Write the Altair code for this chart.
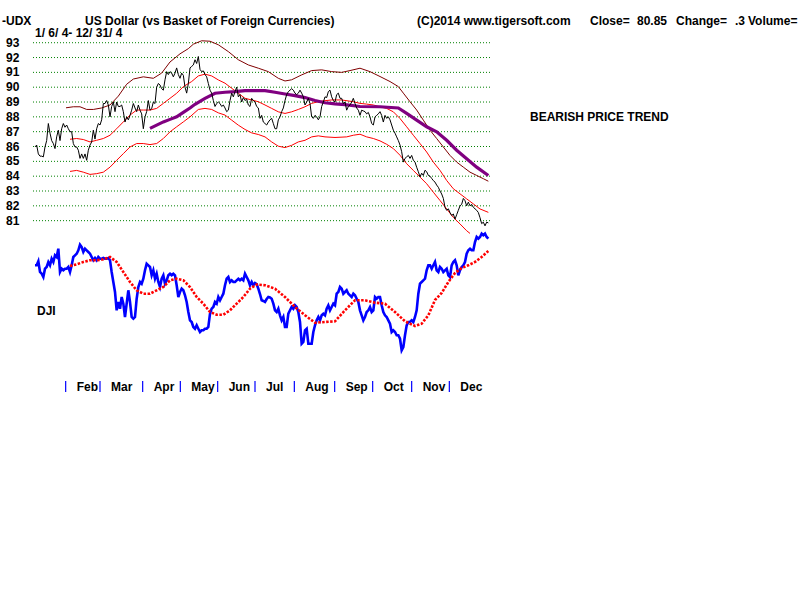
import altair as alt
import pandas as pd

FONT = "Liberation Sans"

# ---------------- US Dollar index (UDX) daily closes, three consecutive segments
UDX_A = [85.97, 86.1, 85.5, 85.35, 85.35, 85.3, 85.97, 86.4, 87.55, 86.9,
         86.4, 86.2, 85.86, 86.65, 87.1, 86.4, 87.2, 87.55, 87.3, 87.45,
         87.2, 87.0, 87.0, 86.2, 85.97, 85.97, 85.75, 85.2, 85.5, 85.2,
         85.5, 85.07, 85.75, 86.1, 86.3, 87.1, 86.5, 87.2, 87.55, 87.45,
         87.8, 88.9, 88.9, 89.1, 88.8, 88.0, 88.7, 89.0, 88.35, 89.0,
         88.7, 88.7, 88.8, 88.35, 87.65, 88.0, 87.8, 88.1, 88.45, 88.9,
         88.6, 88.35, 88.8, 88.45, 88.2, 87.2, 88.0, 88.35, 89.1, 88.45,
         88.55, 89.0, 88.9, 90.0, 90.25, 90.15, 89.9, 89.8, 90.5, 91.05,
         90.85, 91.05, 90.95, 90.7, 90.95, 91.3, 90.85, 90.6, 90.95, 90.8,
         90.0, 89.6, 90.25, 91.3]
UDX_B = [91.4, 91.5, 91.85, 91.6, 92.07, 91.2, 91.05, 91.1, 90.85, 90.7,
         90.25, 89.8, 89.6, 89.1, 88.7, 88.9, 89.0, 88.9, 88.7, 88.8,
         88.6, 88.35, 88.45, 89.1, 89.6, 89.35, 89.7, 90.0, 89.35, 89.5,
         89.0, 89.3, 89.1, 89.2, 88.8, 88.7, 89.25, 89.1, 89.0, 88.7,
         88.6, 87.9, 88.1, 87.65, 87.55, 87.45, 87.65, 87.8, 87.9, 87.55,
         87.2, 87.2, 87.8, 88.0, 88.35, 88.6, 89.1, 89.5, 89.7, 89.8,
         89.9, 89.8, 89.6, 89.5, 89.6, 89.8, 89.6, 89.35, 88.8, 89.0,
         89.25, 88.9, 88.0, 87.9, 88.1, 88.0, 87.8, 88.0, 88.7, 89.0,
         89.35, 89.3, 89.7, 89.8, 89.35, 89.1, 89.0, 89.5, 89.6, 89.25]
UDX_C = [89.25, 88.9, 89.0, 88.45, 88.7, 88.8, 89.0, 89.25, 88.9, 88.6,
         88.45, 88.1, 88.45, 88.4, 88.35, 88.2, 88.3, 88.0, 87.55, 87.45,
         88.0, 88.1, 88.2, 88.35, 88.1, 87.65, 88.1, 87.9, 88.0, 87.8,
         87.45, 87.1, 86.9, 86.65, 86.4, 86.1, 85.65, 84.95, 85.2, 85.3,
         85.4, 85.2, 85.4, 85.07, 84.95, 84.6, 84.3, 83.95, 84.2, 84.05,
         84.4, 84.3, 84.05, 84.0, 83.85, 83.7, 83.6, 83.4, 83.25, 83.0,
         82.8, 82.5, 81.9, 81.7, 81.8, 81.55, 81.35, 81.45, 81.1, 81.4,
         81.7, 82.0, 82.1, 82.5, 82.35, 82.0, 82.25, 82.0, 82.1, 81.9,
         81.8, 81.7, 81.55, 81.2, 80.8, 80.9, 80.65, 80.9, 80.85]
UDX_STARTS = [0, 94, 184]

# ---------------- bands around the price
OUTER_T = [18.6, 23, 27, 31, 35, 40, 45, 50, 55, 59, 65, 71, 76, 81, 87, 92, 95, 100,
           105, 110, 116, 122, 128, 134, 140, 146, 150, 154, 160, 166, 172, 178, 184,
           189, 195, 201, 207, 213, 218, 221, 225, 229, 233, 237, 241, 245, 249, 253,
           257, 261, 265, 269, 272]
OUTER_V = [88.61, 88.68, 88.68, 88.5, 88.5, 88.6, 88.8, 89.4, 90.2, 90.55, 90.7, 90.6,
           90.95, 91.7, 92.25, 92.6, 92.9, 93.13, 93.1, 92.86, 92.4, 91.85, 91.5, 91.28,
           91.05, 90.6, 90.42, 90.5, 90.83, 91.12, 91.17, 91.05, 91.0, 91.12, 91.28,
           91.05, 90.72, 90.38, 90.04, 89.6, 89.02, 88.46, 87.78, 87.1, 86.54, 85.97,
           85.4, 84.95, 84.61, 84.27, 84.05, 83.83, 83.66]

MID_T = [21, 25, 29, 33, 37, 41, 45, 49, 53, 57, 61, 65, 69, 73, 77, 81, 85, 89, 94, 98,
         102, 106, 110, 114, 118, 122, 126, 130, 134, 138, 142, 146, 150, 154, 158, 162,
         166, 170, 174, 178, 184, 191, 195, 199, 203, 207, 211, 215, 219, 223, 227, 231,
         235, 239, 243, 247, 251, 255, 259, 263, 267, 272]
MID_V = [86.49, 86.54, 86.47, 86.31, 86.42, 86.54, 86.76, 87.2, 87.66, 88.12, 88.46,
         88.46, 88.46, 88.57, 88.91, 89.25, 89.59, 90.04, 90.38, 90.76, 90.88, 90.76,
         90.49, 90.27, 89.93, 89.59, 89.25, 89.14, 89.02, 88.8, 88.57, 88.34, 88.23,
         88.34, 88.5, 88.68, 88.91, 89.02, 89.09, 89.14, 89.14, 89.02, 88.91, 88.86,
         88.8, 88.68, 88.57, 88.34, 87.89, 87.33, 86.76, 86.2, 85.63, 84.95, 84.39,
         83.71, 83.15, 82.81, 82.47, 82.13, 81.79, 81.56]

LOW_T = [21, 25, 29, 33, 37, 41, 45, 49, 53, 57, 61, 65, 69, 73, 77, 81, 85, 89, 93, 98,
         102, 106, 110, 114, 118, 122, 126, 130, 134, 138, 142, 146, 150, 154, 158, 162,
         166, 170, 174, 180, 187, 191, 195, 199, 203, 207, 211, 215, 219, 223, 227, 231,
         235, 239, 243, 247, 251, 255, 259, 261]
LOW_V = [84.32, 84.39, 84.27, 84.12, 84.17, 84.27, 84.61, 85.07, 85.52, 85.97, 86.2,
         86.2, 86.13, 86.2, 86.54, 86.99, 87.33, 87.66, 88.0, 88.5, 88.57, 88.5, 88.27,
         88.12, 87.78, 87.44, 87.15, 86.92, 86.81, 86.65, 86.31, 86.02, 85.93, 86.08,
         86.31, 86.42, 86.65, 86.72, 86.65, 86.61, 86.65, 86.76, 86.83, 86.65, 86.54,
         86.38, 86.15, 85.86, 85.41, 84.84, 84.39, 83.94, 83.49, 82.92, 82.36, 81.79,
         81.22, 80.78, 80.32, 80.14]

PUR_T = [69, 73, 77, 81, 85, 89, 93, 96, 102, 108, 114, 120, 126, 132, 138, 144, 150,
         156, 162, 168, 174, 180, 186, 195, 207, 218, 223, 229, 235, 241, 247, 253, 259,
         265, 272]
PUR_V = [87.22, 87.44, 87.66, 87.83, 88.0, 88.3, 88.6, 88.85, 89.25, 89.59, 89.66, 89.7,
         89.77, 89.77, 89.77, 89.66, 89.54, 89.43, 89.3, 89.1, 88.95, 88.88, 88.83, 88.7,
         88.68, 88.6, 88.23, 87.78, 87.33, 86.99, 86.42, 85.75, 85.18, 84.61, 84.05]

# ---------------- DJI (lower panel), two consecutive segments
DJI_A = [10527, 10527, 10567, 10460, 10443, 10410, 10493, 10510, 10560, 10527,
         10593, 10560, 10627, 10610, 10693, 10460, 10493, 10477, 10493, 10493,
         10510, 10460, 10527, 10610, 10627, 10643, 10677, 10733, 10710, 10660,
         10693, 10677, 10660, 10643, 10610, 10577, 10600, 10577, 10610, 10593,
         10593, 10600, 10593, 10593, 10600, 10577, 10460, 10360, 10260, 10077,
         10160, 10093, 10210, 10143, 10010, 10143, 10277, 10160, 10010, 9993,
         10010, 10193, 10310, 10360, 10343, 10393, 10477, 10543, 10527, 10510,
         10427, 10477, 10393, 10443, 10360, 10310, 10393, 10427, 10343, 10377,
         10427, 10443, 10427, 10443, 10427, 10327, 10210, 10260, 10293, 10277,
         10227, 10160, 10060, 9977, 9960, 9910, 9893, 9927, 9893, 9860,
         9877, 9877, 9893, 9893, 9910, 10043, 10093, 10110, 10160, 10143,
         10210, 10177, 10210, 10243, 10327, 10393, 10410, 10360, 10377, 10360,
         10360, 10377, 10393, 10377, 10393, 10377, 10443, 10410, 10377, 10327,
         10360, 10327, 10350]
DJI_B = [10340, 10293, 10240, 10177, 10170, 10160, 10190, 10210, 10205, 10193,
         10143, 10077, 10060, 10093, 10027, 9977, 10010, 9910, 9910, 10043,
         10077, 10110, 10093, 10127, 10110, 10060, 9960, 9743, 9760, 9877,
         9893, 9743, 9743, 9743, 9860, 9927, 9977, 10010, 9977, 10027,
         10043, 10027, 10093, 10127, 10077, 10110, 10143, 10127, 10243, 10260,
         10310, 10293, 10243, 10260, 10277, 10243, 10227, 10210, 10243, 10227,
         10193, 10160, 10077, 10027, 9977, 10010, 10060, 10077, 10110, 10060,
         10077, 10210, 10193, 10210, 10210, 10127, 10060, 10027, 10010, 9977,
         9943, 9860, 9877, 9860, 9827, 9827, 9793, 9677, 9710, 9827,
         9927, 9960, 9960, 9977, 9960, 10010, 10077, 10243, 10343, 10360,
         10377, 10393, 10477, 10527, 10527, 10493, 10527, 10560, 10477, 10460,
         10510, 10493, 10460, 10477, 10493, 10427, 10410, 10527, 10560, 10577,
         10527, 10427, 10477, 10510, 10527, 10560, 10643, 10677, 10693, 10677,
         10677, 10760, 10810, 10793, 10810, 10843, 10827, 10843, 10810, 10793]
DJI_STARTS = [0, 133]

MA_T = [21, 25, 29, 33, 37, 41, 45, 49, 53, 57, 61, 65, 69, 73, 77, 81, 85, 89, 93, 97,
        101, 105, 109, 113, 117, 121, 125, 129, 133, 138, 144, 150, 156, 162, 168, 174,
        180, 186, 192, 198, 204, 210, 216, 222, 228, 232, 236, 240, 244, 248, 252, 256,
        260, 264, 268, 272]
MA_V = [10520, 10537, 10560, 10577, 10577, 10587, 10610, 10560, 10460, 10360, 10277,
        10243, 10243, 10277, 10310, 10377, 10393, 10377, 10310, 10210, 10143, 10060,
        10033, 10033, 10077, 10143, 10210, 10293, 10335, 10327, 10293, 10210, 10110,
        10027, 9953, 9960, 9967, 10077, 10177, 10177, 10153, 10143, 10060, 9967, 9920,
        9943, 10027, 10180, 10250, 10360, 10450, 10500, 10527, 10560, 10610, 10670]

GRID_LEVELS = [93, 92, 91, 90, 89, 88, 87, 86, 85, 84, 83, 82, 81]

MONTH_NAMES = ["Feb", "Mar", "Apr", "May", "Jun", "Jul", "Aug", "Sep", "Oct", "Nov", "Dec"]
MONTH_START = [18.4, 39, 64.6, 87.2, 109.6, 132, 155.6, 179.8, 202.6, 226, 248.6]

TITLE_CODE = "-UDX"
TITLE_NAME = "US Dollar (vs Basket of Foreign Currencies)"
DATE_RANGE = "1/ 6/ 4- 12/ 31/ 4"
COPYRIGHT = "(C)2014 www.tigersoft.com"
CLOSE_LBL = "Close="
CLOSE_VAL = "80.85"
CHANGE_LBL = "Change="
CHANGE_VAL = ".3"
VOLUME_LBL = "Volume="
TREND_TXT = "BEARISH PRICE TREND"
LOWER_NAME = "DJI"

# ---------------- tables
def segments(parts, starts):
    t, v = [], []
    for part, s in zip(parts, starts):
        t += [s + i for i in range(len(part))]
        v += part
    return pd.DataFrame({"t": t, "v": v})

udx = segments([UDX_A, UDX_B, UDX_C], UDX_STARTS)
dji = segments([DJI_A, DJI_B], DJI_STARTS)
outer = pd.DataFrame({"t": OUTER_T, "v": OUTER_V})
mid = pd.DataFrame({"t": MID_T, "v": MID_V})
low = pd.DataFrame({"t": LOW_T, "v": LOW_V})
pur = pd.DataFrame({"t": PUR_T, "v": PUR_V})
ma = pd.DataFrame({"t": MA_T, "v": MA_V})
grid = pd.DataFrame({"lvl": GRID_LEVELS, "lbl": [str(g) for g in GRID_LEVELS]})
months = pd.DataFrame({"t": MONTH_START, "name": MONTH_NAMES})
one = pd.DataFrame({"a": [0]})

XS = alt.Scale(domain=[-21, 459], nice=False, zero=False)
YTOP = alt.Scale(domain=[55.42, 95.88], nice=False, zero=False)
YBOT = alt.Scale(domain=[7180, 13180], nice=False, zero=False)


def line(df, ys, **mk):
    return alt.Chart(df).mark_line(interpolate="linear", **mk).encode(
        x=alt.X("t:Q", scale=XS, axis=None),
        y=alt.Y("v:Q", scale=ys, axis=None),
    )


def label(txt, x, y, size=12, align="left"):
    return alt.Chart(one).mark_text(
        font=FONT, fontSize=size, fontWeight="bold", align=align, baseline="middle",
        color="black",
    ).encode(x=alt.value(x), y=alt.value(y), text=alt.value(txt))


grid_rules = alt.Chart(grid).mark_rule(
    color="#008000", strokeWidth=1, strokeDash=[1, 2]
).encode(
    x=alt.value(33), x2=alt.value(490),
    y=alt.Y("lvl:Q", scale=YTOP, axis=None),
)
grid_labels = alt.Chart(grid).mark_text(
    font=FONT, fontSize=12, fontWeight="bold", align="left", baseline="middle", color="black"
).encode(
    x=alt.value(6),
    y=alt.Y("lvl:Q", scale=YTOP, axis=None),
    text="lbl:N",
)

month_ticks = alt.Chart(months).mark_rule(color="#0000ff", strokeWidth=1.2).encode(
    x=alt.X("t:Q", scale=XS, axis=None), y=alt.value(381), y2=alt.value(392)
)
month_labels = alt.Chart(months).mark_text(
    font=FONT, fontSize=12, fontWeight="bold", align="left", baseline="middle",
    color="black", dx=11,
).encode(
    x=alt.X("t:Q", scale=XS, axis=None), y=alt.value(387), text="name:N"
)

chart = alt.layer(
    grid_rules,
    grid_labels,
    line(outer, YTOP, color="#800000", strokeWidth=1),
    line(mid, YTOP, color="#ff0000", strokeWidth=1),
    line(low, YTOP, color="#ff0000", strokeWidth=1),
    line(pur, YTOP, color="#800080", strokeWidth=3.2),
    line(udx, YTOP, color="#000000", strokeWidth=1),
    line(dji, YBOT, color="#0000ff", strokeWidth=2.6),
    line(ma, YBOT, color="#ff0000", strokeWidth=2.6, strokeDash=[2.5, 1.5]),
    month_ticks,
    month_labels,
    label(TITLE_CODE, 2, 21),
    label(TITLE_NAME, 85, 21),
    label(DATE_RANGE, 35, 33),
    label(COPYRIGHT, 417, 21),
    label(CLOSE_LBL, 590, 21),
    label(CLOSE_VAL, 637, 21),
    label(CHANGE_LBL, 676, 21),
    label(CHANGE_VAL, 735, 21),
    label(VOLUME_LBL, 748, 21),
    label(TREND_TXT, 530, 117),
    label(LOWER_NAME, 37, 311),
).resolve_scale(y="independent").properties(
    width=800, height=600,
    autosize=alt.AutoSizeParams(type="none"),
    padding=0,
    background="white",
).configure_view(stroke=None)

chart.save("out.html", embed_options={"renderer": "svg", "actions": False})
